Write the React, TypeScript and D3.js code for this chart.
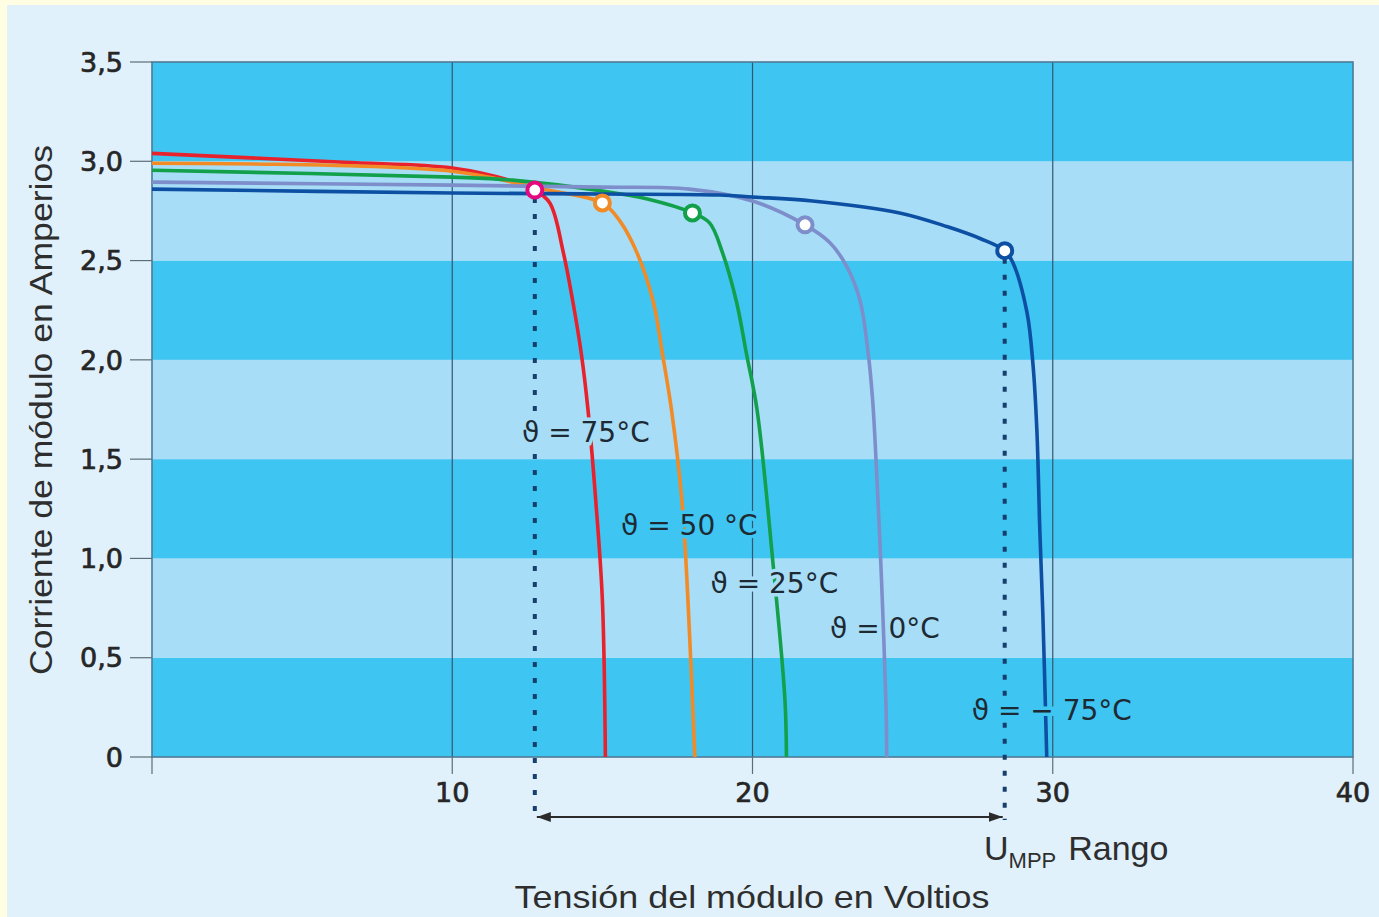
import React, { useEffect } from 'react';
import * as d3 from 'd3';

// I-V curves of a module at different cell temperatures (V in volts, I in amps)
const v75 = [0, 6.4, 10, 12, 12.75, 13.25, 13.7, 14.02, 14.3, 14.52, 14.78, 15.0, 15.1];
const i75 = [3.04, 2.995, 2.966, 2.9, 2.855, 2.79, 2.54, 2.29, 2.03, 1.75, 1.29, 0.79, 0];

const v50 = [0, 10, 13, 15.0, 15.58, 16.15, 16.7, 17.0, 17.3, 17.65, 17.85, 18.08];
const i50 = [2.99, 2.95, 2.86, 2.79, 2.7, 2.54, 2.29, 2.03, 1.75, 1.29, 0.79, 0];

const v25 = [0, 10, 12, 15, 16.5, 18.0, 18.57, 19.0, 19.47, 19.8, 20.15, 20.68, 21.08, 21.13];
const i25 = [2.955, 2.92, 2.905, 2.85, 2.81, 2.74, 2.69, 2.54, 2.29, 2.03, 1.75, 0.98, 0.29, 0];

const v0 = [0, 10, 15, 17.9, 20, 21.75, 22.58, 23.14, 23.58, 23.84, 24.0, 24.18, 24.3, 24.45, 24.47];
const i0 = [2.895, 2.88, 2.87, 2.86, 2.8, 2.68, 2.59, 2.47, 2.3, 2.05, 1.8, 1.29, 0.88, 0.24, 0];

const vm75 = [0, 10, 15, 18.9, 20, 22, 24.9, 26.5, 27.6, 28.4, 28.67, 29.14, 29.34, 29.47, 29.57, 29.67, 29.8];
const im75 = [2.86, 2.84, 2.835, 2.83, 2.82, 2.8, 2.74, 2.67, 2.61, 2.55, 2.49, 2.24, 1.98, 1.65, 1.14, 0.72, 0];

// maximum power points
const mppV = [12.75, 15.0, 18.0, 21.75, 28.4];
const mppI = [2.855, 2.79, 2.74, 2.68, 2.55];

const curveLabels = ['ϑ = 75°C', 'ϑ = 50 °C', 'ϑ = 25°C', 'ϑ = 0°C', 'ϑ = − 75°C'];
const labelV = [12.32, 15.62, 18.6, 22.58, 27.3];
const labelI = [1.636, 1.168, 0.876, 0.65, 0.237];

const xTicks = [10, 20, 30, 40];
const yTicks = [0, 0.5, 1, 1.5, 2, 2.5, 3, 3.5];
const yTickLabels = ['0', '0,5', '1,0', '1,5', '2,0', '2,5', '3,0', '3,5'];

const lineColors = ['#e8222c', '#f28a26', '#12a04a', '#7d8ecb', '#0d50a3'];
const markerColors = ['#e4097f', '#f28a26', '#12a04a', '#7d8ecb', '#0d50a3'];

const DARK = '#3fc5f1';
const LIGHT = '#a7ddf7';

const W = 1379;
const H = 917;
const margin = { top: 62, right: 26, bottom: 160, left: 152 };

export default function App() {
  useEffect(() => {
    document.body.style.margin = '0';
  }, []);

  const x = d3.scaleLinear().domain([0, 40]).range([margin.left, W - margin.right]);
  const y = d3.scaleLinear().domain([0, 3.5]).range([H - margin.bottom, margin.top]);

  const series = [
    [v75, i75],
    [v50, i50],
    [v25, i25],
    [v0, i0],
    [vm75, im75],
  ];

  const line = d3
    .line<[number, number]>()
    .x((d) => x(d[0]))
    .y((d) => y(d[1]))
    .curve(d3.curveCatmullRom.alpha(0.5));

  const bandColor = (a: number) => (Math.floor(a / 0.5) % 2 === 0 ? DARK : LIGHT);

  const x0 = x(0);
  const x1 = x(40);
  const yBottom = y(0);
  const yTop = y(3.5);
  const arrowY = 817;

  const tickFont = '"DejaVu Sans", Verdana, sans-serif';
  const titleFont = '"Liberation Sans", Arial, sans-serif';

  return (
    <svg width={W} height={H} style={{ display: 'block' }}>
      <defs>
        <marker id="arrEnd" viewBox="0 0 10 10" refX="10" refY="5" markerWidth="7" markerHeight="7" orient="auto">
          <path d="M0,1.5 L10,5 L0,8.5 Z" fill="#2b2b2b" />
        </marker>
        <marker id="arrStart" viewBox="0 0 10 10" refX="0" refY="5" markerWidth="7" markerHeight="7" orient="auto">
          <path d="M10,1.5 L0,5 L10,8.5 Z" fill="#2b2b2b" />
        </marker>
      </defs>

      {/* frame */}
      <rect x={0} y={0} width={W} height={H} fill="#fffde2" />
      <rect x={7} y={5} width={W - 7} height={H - 5} fill="#e0f1fb" />

      {/* stripes */}
      {yTicks.slice(0, -1).map((t, i) => (
        <rect
          key={'b' + i}
          x={x0}
          y={y(t + 0.5)}
          width={x1 - x0}
          height={y(t) - y(t + 0.5)}
          fill={i % 2 === 0 ? DARK : LIGHT}
        />
      ))}

      {/* grid */}
      {xTicks.slice(0, -1).map((t) => (
        <line key={'g' + t} x1={x(t)} x2={x(t)} y1={yTop} y2={yBottom} stroke="#35566e" strokeWidth={1.2} />
      ))}

      {/* border */}
      <rect x={x0} y={yTop} width={x1 - x0} height={yBottom - yTop} fill="none" stroke="#4f7a96" strokeWidth={1.6} />

      {/* y ticks */}
      {yTicks.map((t, i) => (
        <g key={'y' + t}>
          <line x1={x0 - 22} x2={x0} y1={y(t)} y2={y(t)} stroke="#5d6d78" strokeWidth={1.2} />
          <text
            x={x0 - 29}
            y={y(t)}
            dy="0.36em"
            textAnchor="end"
            fontFamily={tickFont}
            fontSize={27}
            fill="#262626"
            stroke="#262626"
            strokeWidth={0.7}
          >
            {yTickLabels[i]}
          </text>
        </g>
      ))}

      {/* x ticks */}
      {[0, ...xTicks].map((t) => (
        <g key={'x' + t}>
          <line x1={x(t)} x2={x(t)} y1={yBottom} y2={yBottom + 17} stroke="#5d6d78" strokeWidth={1.2} />
          {t > 0 && (
            <text
              x={x(t)}
              y={yBottom + 45}
              textAnchor="middle"
              fontFamily={tickFont}
              fontSize={27}
              fill="#262626"
              stroke="#262626"
              strokeWidth={0.7}
            >
              {t}
            </text>
          )}
        </g>
      ))}

      {/* MPP range dotted lines and arrow */}
      {[0, 4].map((k) => (
        <line
          key={'d' + k}
          x1={x(mppV[k])}
          x2={x(mppV[k])}
          y1={y(mppI[k]) + 8}
          y2={arrowY + 3}
          stroke="#173f6e"
          strokeWidth={4}
          strokeDasharray="5,11"
        />
      ))}
      <line
        x1={x(mppV[0]) + 2}
        x2={x(mppV[4]) - 2}
        y1={arrowY}
        y2={arrowY}
        stroke="#2b2b2b"
        strokeWidth={2}
        markerStart="url(#arrStart)"
        markerEnd="url(#arrEnd)"
      />

      {/* curves */}
      {series.map(([vs, is], k) => (
        <path
          key={'c' + k}
          d={line(vs.map((v, j) => [v, is[j]] as [number, number])) || ''}
          fill="none"
          stroke={lineColors[k]}
          strokeWidth={3.6}
          strokeLinejoin="round"
        />
      ))}

      {/* curve labels */}
      {curveLabels.map((lab, k) => (
        <text
          key={'l' + k}
          x={x(labelV[k])}
          y={y(labelI[k])}
          dy="0.35em"
          fontFamily={tickFont}
          fontSize={28}
          fill="#1e2a33"
          stroke={bandColor(labelI[k])}
          strokeWidth={7}
          paintOrder="stroke"
        >
          {lab}
        </text>
      ))}

      {/* MPP markers */}
      {mppV.map((v, k) => (
        <circle
          key={'m' + k}
          cx={x(v)}
          cy={y(mppI[k])}
          r={7.5}
          fill="#ffffff"
          stroke={markerColors[k]}
          strokeWidth={4}
        />
      ))}

      {/* U_MPP Rango */}
      <text x={984} y={860} fontFamily={titleFont} fontSize={34} fill="#2e2e2e">
        U
        <tspan fontSize={22} dy={8}>
          MPP
        </tspan>
        <tspan dy={-8} dx={12}>
          Rango
        </tspan>
      </text>

      {/* axis titles */}
      <text
        x={752}
        y={908}
        textAnchor="middle"
        fontFamily={titleFont}
        fontSize={32}
        textLength={475}
        lengthAdjust="spacingAndGlyphs"
        fill="#2e2e2e"
      >
        Tensión del módulo en Voltios
      </text>
      <text
        transform={`translate(52, ${410}) rotate(-90)`}
        textAnchor="middle"
        fontFamily={titleFont}
        fontSize={32}
        textLength={530}
        lengthAdjust="spacingAndGlyphs"
        fill="#2e2e2e"
      >
        Corriente de módulo en Amperios
      </text>
    </svg>
  );
}
